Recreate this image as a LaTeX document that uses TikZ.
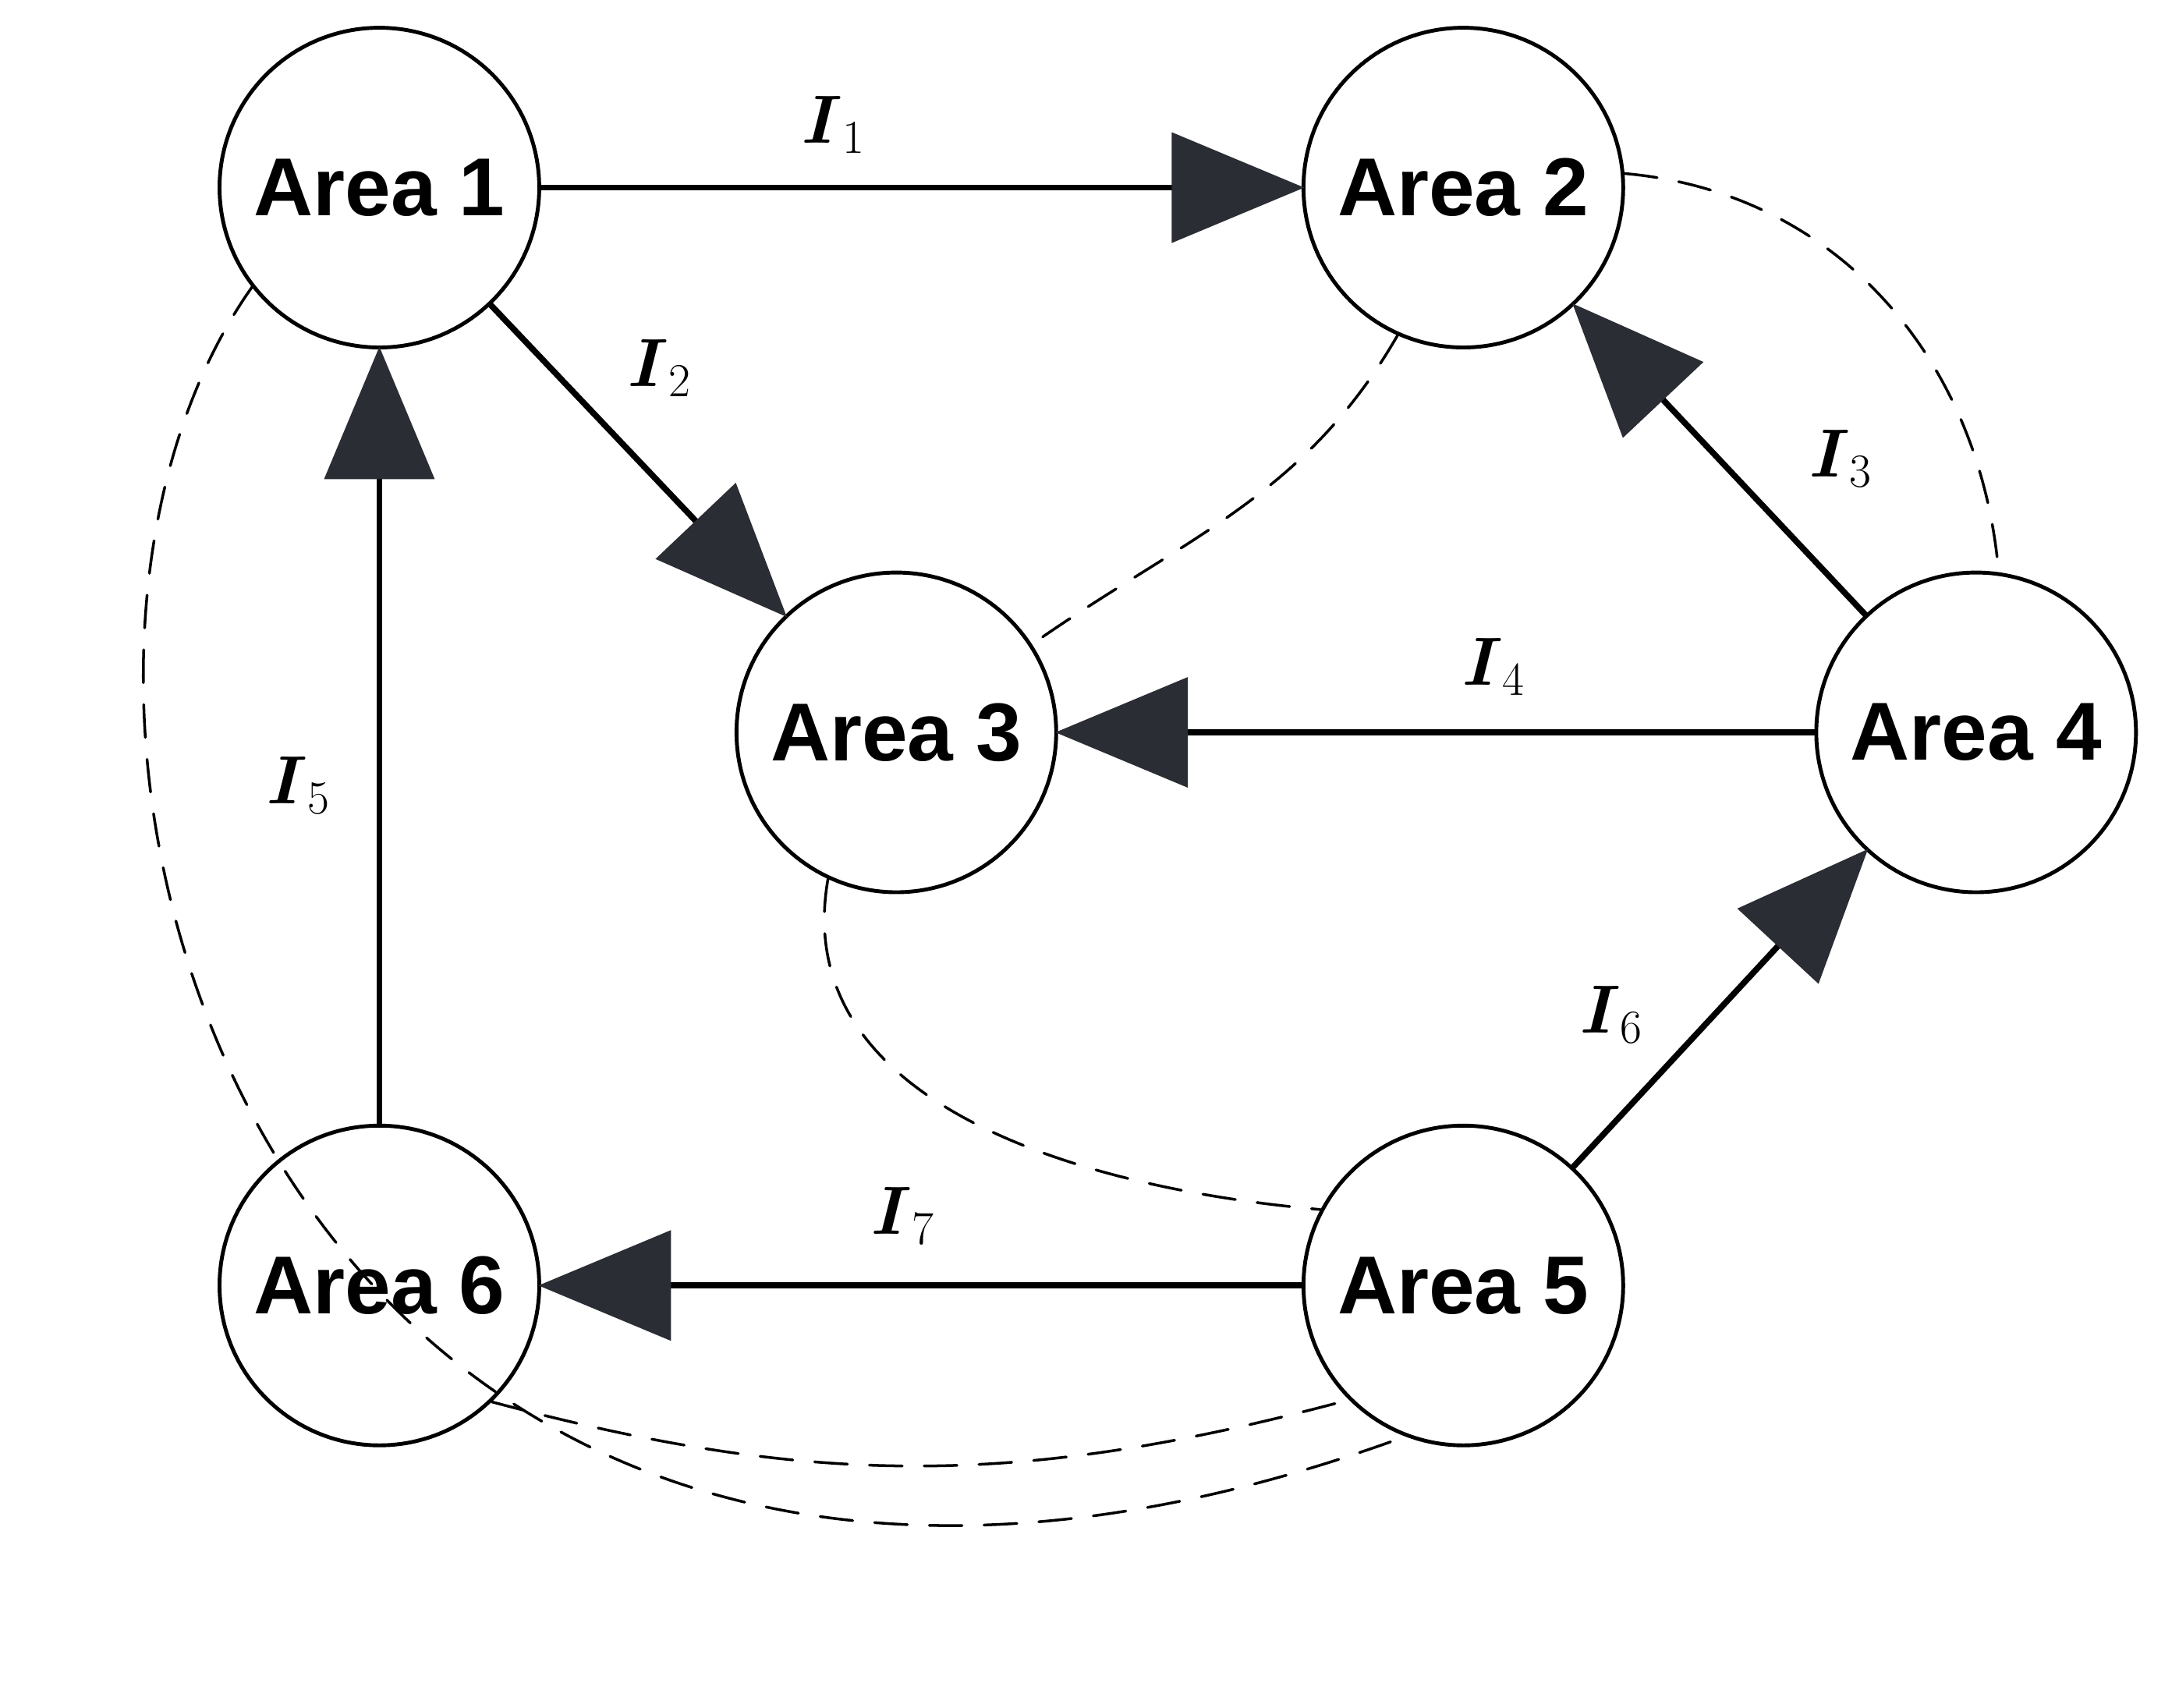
\documentclass[tikz,border=0pt]{standalone}
\usepackage{amsmath}
\usepackage{amssymb}
\usepackage{fontspec}
\setmainfont{Liberation Sans}
\usetikzlibrary{arrows.meta}
\definecolor{tipgray}{HTML}{2a2d33}
\begin{document}
\begin{tikzpicture}[x=0.01782cm,y=-0.01782cm,every path/.style={line cap=round}]

        \tikzset{area/.style = {shape=circle,draw,line width=1.4pt,minimum size=4.1cm,inner sep=0pt,font=\fontsize{30}{36}\selectfont\bfseries}}
        \tikzset{flow/.style = {line width=2.2pt,-{Triangle[length=1.7cm,width=1.4cm,fill=tipgray,color=tipgray]},shorten >=-1pt}}
        \tikzset{tie/.style = {dashed,line width=1pt,dash pattern=on 12pt off 8pt}}
        \tikzset{lbl/.style = {font=\fontsize{26}{30}\selectfont}}

        \useasboundingbox (0,0) rectangle (1568,1229);

        \node[area] (1) at (273,135) {Area 1};
        \node[area] (2) at (1053,135) {Area 2};
        \node[area] (3) at (645,527) {Area 3};
        \node[area] (4) at (1422,527) {Area 4};
        \node[area] (5) at (1053,925) {Area 5};
        \node[area] (6) at (273,925) {Area 6};

        \draw[flow] (1) to (2);
        \draw[flow] (1) to (3);
        \draw[flow] (4) to (2);
        \draw[flow] (4) to (3);
        \draw[flow] (5) to (4);
        \draw[flow] (6) to (1);
        \draw[flow] (5) to (6);

        \draw[tie] (2.5) to [out=-5, in=95] (4.82);
        \draw[tie] (2.-114) to [out=-120, in=35] (3.33);
        \draw[tie] (3.-115) to [out=-100, in=175] (5.152);
        \draw[tie] (6.-46) to [out=-15, in=-165] (5.-135);
        \draw[tie] (1.-142) .. controls (-40,520) and (200,1330) .. (5.-111);

        \node[lbl] (l1) at (600,90) {$\boldsymbol{I}_1$};
        \node[lbl] (l2) at (475,265) {$\boldsymbol{I}_2$};
        \node[lbl] (l3) at (1325,330) {$\boldsymbol{I}_3$};
        \node[lbl] (l4) at (1075,480) {$\boldsymbol{I}_4$};
        \node[lbl] (l5) at (215,565) {$\boldsymbol{I}_5$};
        \node[lbl] (l6) at (1160,730) {$\boldsymbol{I}_6$};
        \node[lbl] (l7) at (650,875) {$\boldsymbol{I}_7$};
\end{tikzpicture}
\end{document}
